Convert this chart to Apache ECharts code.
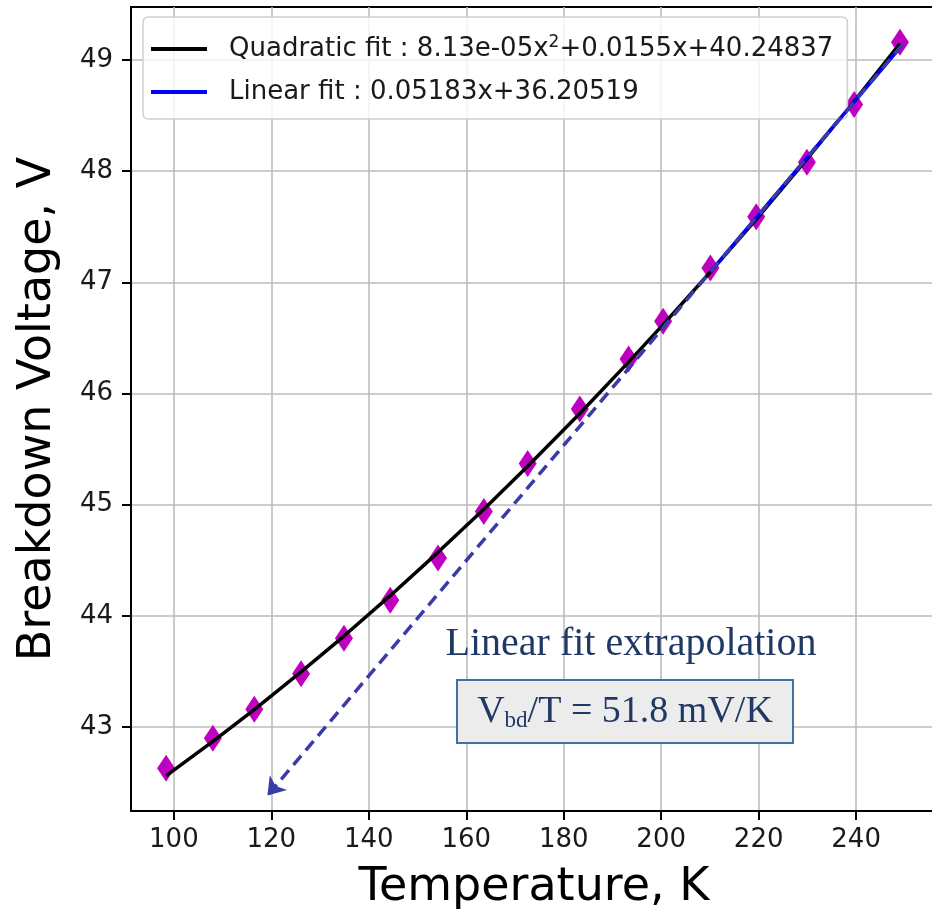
<!DOCTYPE html>
<html>
<head>
<meta charset="utf-8">
<script src="https://cdn.jsdelivr.net/npm/echarts@6/dist/echarts.min.js"></script>
<style>
html,body{margin:0;padding:0;background:#fff;}
#chart{width:932px;height:909px;}
</style>
</head>
<body>
<div id="chart"></div>
<script>
// ---- data ----
const temps = [98.4, 108.0, 116.5, 126.1, 134.9, 144.4, 154.2, 163.6, 172.6, 183.3, 193.3, 200.4, 210.1, 219.5, 229.9, 239.6, 249.0];
const volts = [42.63, 42.90, 43.16, 43.48, 43.80, 44.14, 44.52, 44.94, 45.37, 45.86, 46.31, 46.65, 47.13, 47.59, 48.08, 48.60, 49.16];
// fit coefficients as printed in the legend
const quadCoef = [8.13e-05, 0.0155, 40.24837];
const linCoef = [0.05183, 36.20519];
const linFitStartIndex = 12;          // linear fit drawn over the last five points
const arrowT = [249.5, 119.2];        // extrapolation arrow (start, end) in K
const xTicks = [100, 120, 140, 160, 180, 200, 220, 240];
const yTicks = [43, 44, 45, 46, 47, 48, 49];
const xRange = [91.2, 256.6];
const yRange = [42.245, 49.477];
const legendNames = ['Quadratic fit', 'Linear fit'];
const legendLabels = {
  'Quadratic fit': '{n|Quadratic fit : 8.13e-05x}{sup|2}{n|+0.0155x+40.24837}',
  'Linear fit': '{n|Linear fit : 0.05183x+36.20519}'
};
const xTitle = 'Temperature, K';
const yTitle = 'Breakdown Voltage, V';
const noteTitle = 'Linear fit extrapolation';
const noteBox = '{v|V}{s|bd}{v|/T = 51.8 mV/K}';

const quad = t => quadCoef[0] * t * t + quadCoef[1] * t + quadCoef[2];
const lin = t => linCoef[0] * t + linCoef[1];

const scatterData = temps.map((t, i) => [t, volts[i]]);
const quadData = temps.map(t => [t, quad(t)]);
const linData = temps.slice(linFitStartIndex).map(t => [t, lin(t)]);

const chart = echarts.init(document.getElementById('chart'), null, {renderer: 'canvas'});
const tickFont = {fontFamily: 'DejaVu Sans', fontSize: 26, color: '#1a1a1a'};

chart.setOption({
  animation: false,
  backgroundColor: '#fff',
  grid: {left: 131, top: 7, width: 806, height: 804, show: true, borderColor: '#000', borderWidth: 2,
         backgroundColor: 'transparent', containLabel: false, outerBoundsMode: 'none'},
  xAxis: {
    type: 'value', min: xRange[0], max: xRange[1],
    name: xTitle, nameLocation: 'middle', nameGap: 54,
    nameTextStyle: {fontFamily: 'DejaVu Sans', fontSize: 46, color: '#000'},
    axisLine: {show: true, lineStyle: {color: '#000', width: 2}},
    axisTick: {show: true, length: 9, lineStyle: {color: '#000', width: 2}, customValues: xTicks},
    axisLabel: Object.assign({margin: 16, customValues: xTicks}, tickFont),
    splitLine: {show: true, lineStyle: {color: '#bdbdbd', width: 1.6}}
  },
  yAxis: {
    type: 'value', min: yRange[0], max: yRange[1],
    name: yTitle, nameLocation: 'middle', nameGap: 70,
    nameTextStyle: {fontFamily: 'DejaVu Sans', fontSize: 46, color: '#000'},
    axisLine: {show: true, lineStyle: {color: '#000', width: 2}},
    axisTick: {show: true, length: 9, lineStyle: {color: '#000', width: 2}, customValues: yTicks},
    axisLabel: Object.assign({margin: 18, customValues: yTicks}, tickFont),
    splitLine: {show: true, lineStyle: {color: '#bdbdbd', width: 1.6}}
  },
  legend: {
    orient: 'vertical', left: 143, top: 17,
    padding: [17, 14, 14, 8],
    itemWidth: 56, itemHeight: 4, itemGap: 17, icon: 'rect',
    backgroundColor: 'rgba(255,255,255,0.8)', borderColor: '#cfcfcf', borderWidth: 1.5, borderRadius: 5,
    data: legendNames,
    formatter: name => legendLabels[name],
    textStyle: {
      fontFamily: 'DejaVu Sans', fontSize: 26, color: '#1a1a1a', padding: [0, 0, 0, 17],
      rich: {
        n: {fontFamily: 'DejaVu Sans', fontSize: 26, color: '#1a1a1a', lineHeight: 30},
        sup: {fontFamily: 'DejaVu Sans', fontSize: 17, color: '#1a1a1a', lineHeight: 14, verticalAlign: 'top'}
      }
    }
  },
  series: [
    {
      type: 'scatter', name: 'data', data: scatterData,
      symbol: 'diamond', symbolSize: [18, 27],
      itemStyle: {color: '#c000c0', opacity: 1}, z: 2
    },
    {
      type: 'line', name: legendNames[0], data: quadData,
      showSymbol: false, color: '#000',
      lineStyle: {color: '#000', width: 3.5}, z: 3
    },
    {
      type: 'line', name: legendNames[1], data: linData,
      showSymbol: false, color: '#0000ff',
      lineStyle: {color: '#0000ff', width: 3.5}, z: 4,
      markLine: {
        silent: true, animation: false,
        symbol: ['none', 'arrow'], symbolSize: 17,
        label: {show: false},
        emphasis: {disabled: true},
        lineStyle: {color: '#3a3aa8', width: 3.5, type: [12, 7], opacity: 1},
        data: [[{coord: [arrowT[0], lin(arrowT[0])]}, {coord: [arrowT[1], lin(arrowT[1])]}]]
      }
    }
  ],
  graphic: [
    {
      type: 'text', x: 631, y: 644, z: 100,
      style: {text: noteTitle, fontFamily: 'Liberation Serif', fontSize: 40, fill: '#1f3864', align: 'center', verticalAlign: 'middle'}
    },
    {
      type: 'rect', z: 100,
      shape: {x: 457, y: 680, width: 336, height: 63},
      style: {fill: '#ececec', stroke: '#41719c', lineWidth: 2}
    },
    {
      type: 'text', x: 625, y: 712, z: 101,
      style: {
        text: noteBox, align: 'center', verticalAlign: 'middle',
        rich: {
          v: {fontFamily: 'Liberation Serif', fontSize: 38, fill: '#1f3864', lineHeight: 40},
          s: {fontFamily: 'Liberation Serif', fontSize: 23, fill: '#1f3864', lineHeight: 22, verticalAlign: 'bottom'}
        }
      }
    }
  ]
});
</script>
</body>
</html>
